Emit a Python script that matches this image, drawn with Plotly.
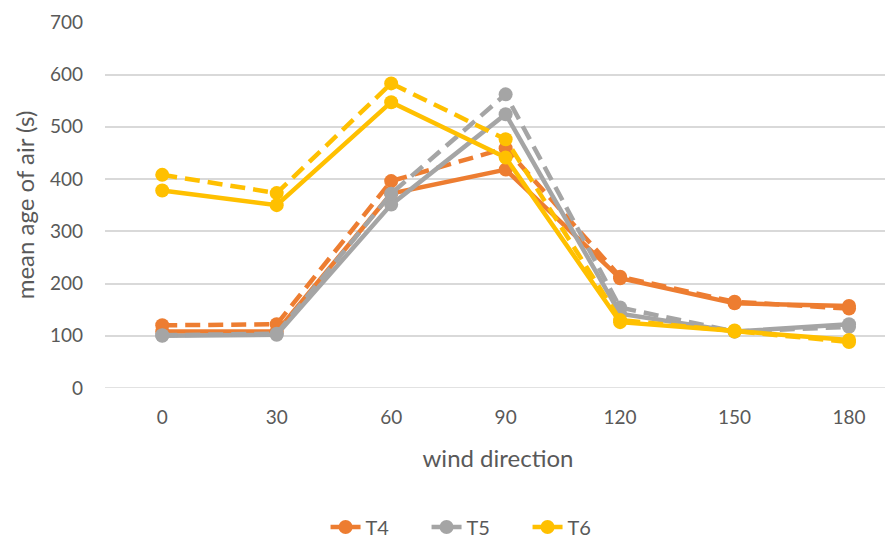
import plotly.graph_objects as go

wind_direction = [0, 30, 60, 90, 120, 150, 180]
tick_labels = ["0", "30", "60", "90", "120", "150", "180"]

t4_solid = [108, 108, 372, 418, 210, 162, 157]
t4_dashed = [120, 122, 396, 459, 213, 165, 152]
t5_solid = [100, 102, 351, 524, 142, 108, 122]
t5_dashed = [101, 104, 372, 562, 154, 108, 117]
t6_solid = [378, 350, 547, 441, 126, 110, 92]
t6_dashed = [408, 373, 583, 476, 130, 108, 88]

colors = {"T4": "#ED7D31", "T5": "#A5A5A5", "T6": "#FFC000"}

series = [
    ("T4", t4_solid, "solid", True),
    ("T4", t4_dashed, "dash", False),
    ("T5", t5_solid, "solid", True),
    ("T5", t5_dashed, "dash", False),
    ("T6", t6_solid, "solid", True),
    ("T6", t6_dashed, "dash", False),
]

fig = go.Figure()
for name, vals, dash, show in series:
    fig.add_trace(go.Scatter(
        x=wind_direction, y=vals, name=name, mode="lines+markers",
        line=dict(color=colors[name], width=4.5, dash="15px,8px" if dash == "dash" else "solid"),
        marker=dict(color=colors[name], size=14),
        showlegend=show, legendgroup=name,
    ))

font_family = "Lato, 'Liberation Sans', sans-serif"
fig.update_layout(
    width=885, height=532,
    margin=dict(l=97, r=2, t=12, b=152),
    plot_bgcolor="white", paper_bgcolor="white",
    font=dict(family=font_family, size=19, color="#595959"),
    xaxis=dict(
        range=[-15, 191], tickvals=wind_direction, ticktext=tick_labels,
        showgrid=False, zeroline=False, showline=False, ticks="",
        ticklabelstandoff=16,
        title=dict(text="wind direction", font=dict(size=24, color="#595959"), standoff=23),
    ),
    yaxis=dict(
        range=[0, 700.5], tickvals=[0, 100, 200, 300, 400, 500, 600, 700],
        showgrid=True, gridcolor="#D9D9D9", gridwidth=1.5,
        zeroline=False, showline=False, ticks="", ticklabelstandoff=21,
        ticklabeloverflow="allow",
        title=dict(text="mean age of air (s)", font=dict(size=24, color="#595959"), standoff=8),
    ),
    legend=dict(
        orientation="h", xref="container", yref="container",
        x=0.53, xanchor="center", y=0.0244, yanchor="middle",
        font=dict(size=20, color="#595959"), entrywidth=56, entrywidthmode="pixels",
    ),
)
fig.add_shape(type="line", xref="paper", yref="y", x0=0, x1=1, y0=0, y1=0,
              line=dict(color="#D9D9D9", width=1.5), layer="below")

fig.write_html("out.html")
